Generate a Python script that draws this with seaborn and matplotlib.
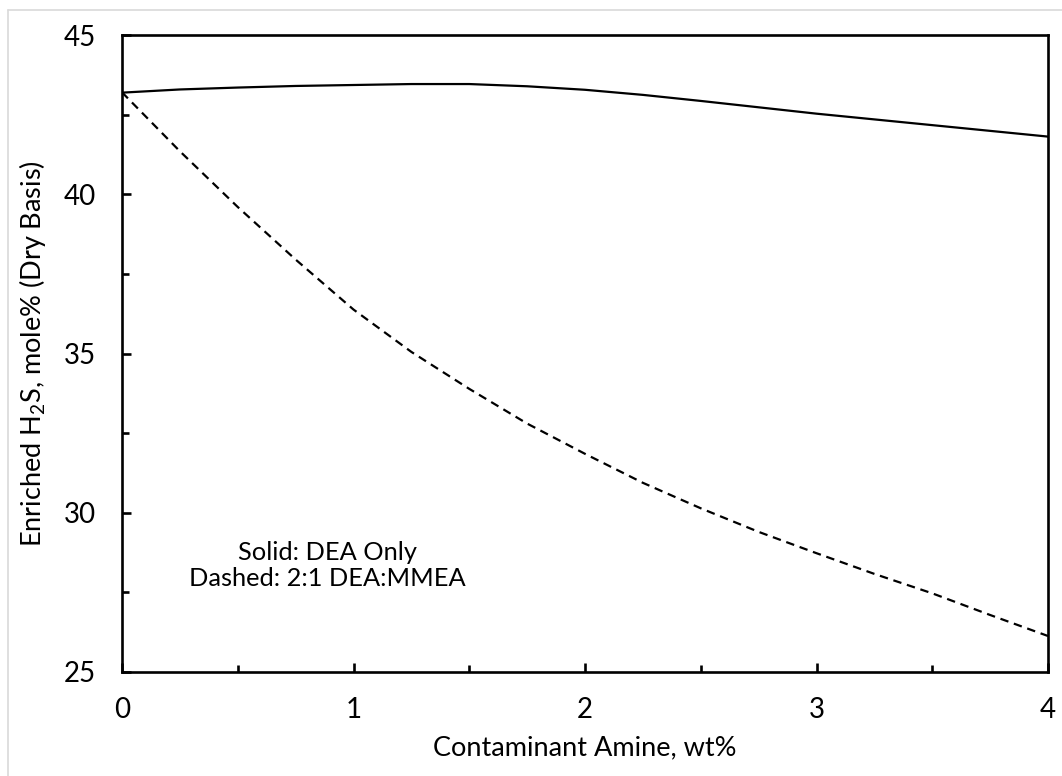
import matplotlib
matplotlib.use("Agg")
import matplotlib.pyplot as plt
from matplotlib.lines import Line2D
from matplotlib.ticker import MultipleLocator
import seaborn as sns
import pandas as pd

# Data
x_wt = [0.0, 0.25, 0.5, 0.75, 1.0, 1.25, 1.5, 1.75, 2.0, 2.25, 2.5, 2.75, 3.0, 3.25, 3.5, 3.75, 4.0]
dea_only = [43.19, 43.29, 43.35, 43.40, 43.43, 43.46, 43.46, 43.39, 43.28, 43.12, 42.93, 42.73,
            42.53, 42.35, 42.17, 41.99, 41.81]
dea_mmea = [43.20, 41.35, 39.60, 37.95, 36.38, 35.05, 33.89, 32.80, 31.85, 30.94, 30.14, 29.40,
            28.73, 28.08, 27.47, 26.79, 26.13]
note_lines = ["Solid: DEA Only", "Dashed: 2:1 DEA:MMEA"]
x_ticks = [0, 1, 2, 3, 4]
y_ticks = [25, 30, 35, 40, 45]

sns.set_theme(style="white")
plt.rcParams['font.family'] = ['Lato', 'DejaVu Sans']
plt.rcParams['mathtext.fontset'] = 'custom'
plt.rcParams['mathtext.rm'] = 'Lato'
plt.rcParams['mathtext.it'] = 'Lato:italic'

df = pd.DataFrame({
    "x": x_wt * 2,
    "y": dea_only + dea_mmea,
    "series": ["DEA Only"] * len(x_wt) + ["2:1 DEA:MMEA"] * len(x_wt),
})

fig = plt.figure(figsize=(10.62, 7.76), dpi=100)
fig.patch.set_facecolor("white")
ax = fig.add_axes([122 / 1062, 1 - 672 / 776, (1048 - 122) / 1062, (672 - 35) / 776])

sns.lineplot(data=df, x="x", y="y", style="series",
             style_order=["DEA Only", "2:1 DEA:MMEA"],
             dashes={"DEA Only": "", "2:1 DEA:MMEA": (3.8, 2.6)},
             color="black", linewidth=1.6, ax=ax, legend=False, sort=False)

ax.set_xlim(0, 4)
ax.set_ylim(25, 45)
ax.set_xticks(x_ticks)
ax.set_yticks(y_ticks)
ax.xaxis.set_minor_locator(MultipleLocator(0.5))
ax.yaxis.set_minor_locator(MultipleLocator(2.5))
ax.tick_params(axis="both", which="major", direction="in", length=6.5, width=1.9,
               labelsize=20, color="black", labelcolor="black",
               top=False, right=False, bottom=True, left=True)
ax.tick_params(axis="both", which="minor", direction="in", length=4.8, width=1.9,
               color="black", top=False, right=False, bottom=True, left=True)
ax.tick_params(axis="x", which="major", pad=18)
ax.tick_params(axis="y", which="major", pad=19)

for s in ax.spines.values():
    s.set_visible(True)
    s.set_color("black")
    s.set_linewidth(1.9)

ax.set_xlabel("Contaminant Amine, wt%", fontsize=19.5, color="black", labelpad=9)
ax.set_ylabel(r"Enriched H$_2$S, mole% (Dry Basis)", fontsize=19.5, color="black", labelpad=11)
ax.grid(False)

ax.text(0.888, 28.34, "\n".join(note_lines), ha="center", va="center",
        fontsize=18.3, color="black", linespacing=1.15)

# light frame lines at top and left of figure
fig.add_artist(Line2D([8 / 1062, 8 / 1062], [0, 1 - 10 / 776], transform=fig.transFigure,
                      color="#d9d9d9", linewidth=1.2))
fig.add_artist(Line2D([8 / 1062, 1], [1 - 10 / 776, 1 - 10 / 776], transform=fig.transFigure,
                      color="#d9d9d9", linewidth=1.2))

fig.savefig("out.png", dpi=100, facecolor="white")
